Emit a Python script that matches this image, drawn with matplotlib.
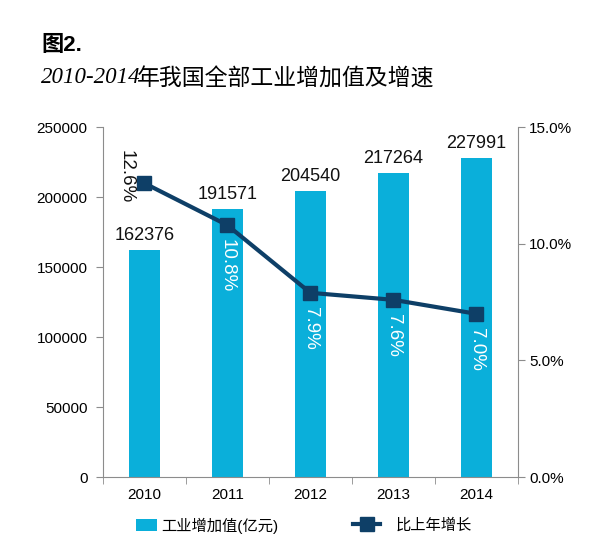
import matplotlib
matplotlib.use("Agg")
import matplotlib.pyplot as plt
from matplotlib.lines import Line2D
from matplotlib.patches import Patch

plt.rcParams['font.family'] = ['Liberation Sans', 'Noto Sans CJK SC', 'DejaVu Sans']

years = ['2010', '2011', '2012', '2013', '2014']
values = [162376, 191571, 204540, 217264, 227991]
growth = [12.6, 10.8, 7.9, 7.6, 7.0]
growth_labels = ['12.6%', '10.8%', '7.9%', '7.6%', '7.0%']
left_ticks = [0, 50000, 100000, 150000, 200000, 250000]
right_ticks = [0, 5, 10, 15]

bar_color = '#0AAFDA'
line_color = '#0E3F67'
axis_color = '#8C8C8C'

fig = plt.figure(figsize=(5.98, 5.58), dpi=100)
ax = fig.add_axes([0.172, 0.145, 0.694, 0.627])
x = list(range(len(years)))
ax.bar(x, values, width=0.37, color=bar_color, zorder=2)
ax.set_xlim(-0.5, 4.5)
ax.set_ylim(0, 250000)
ax.set_yticks(left_ticks)
ax.set_yticklabels([str(v) for v in left_ticks], fontsize=11)
ax.set_xticks(x)
ax.set_xticklabels(years, fontsize=11)
ax.set_xticks([i - 0.5 for i in range(len(years) + 1)], minor=True)
ax.tick_params(axis='x', which='major', length=0, pad=8)
ax.tick_params(axis='x', which='minor', length=5, color=axis_color, direction='out')
ax.tick_params(axis='y', length=5, color=axis_color, direction='out', pad=6)
for s in ['top', 'right']:
    ax.spines[s].set_visible(False)
for s in ['left', 'bottom']:
    ax.spines[s].set_color(axis_color)

for xi, v in zip(x, values):
    ax.text(xi, v + 4000, str(v), ha='center', va='bottom', fontsize=13, color='#111111')

ax2 = ax.twinx()
ax2.set_ylim(0, 15)
ax2.set_yticks(right_ticks)
ax2.set_yticklabels(['%.1f%%' % t for t in right_ticks], fontsize=11)
ax2.tick_params(axis='y', length=5, color=axis_color, direction='out', pad=3)
for s in ['top', 'left', 'bottom']:
    ax2.spines[s].set_visible(False)
ax2.spines['right'].set_color(axis_color)
ax2.plot(x, growth, color=line_color, lw=3, marker='s', markersize=10, zorder=3)

for i, (xi, g, lab) in enumerate(zip(x, growth, growth_labels)):
    if i == 0:
        ax2.text(xi - 0.22, g + 0.3, lab, rotation=270, ha='center', va='center',
                 fontsize=13.5, color='#111111')
    else:
        ax2.text(xi, g - 0.6, lab, rotation=270, ha='center', va='top',
                 fontsize=13.5, color='white')

fig.text(0.07, 0.918, '图2.', fontsize=16, fontweight='bold',
         family=['Liberation Sans', 'Noto Sans CJK SC'], va='center')
fig.text(0.068, 0.862, '2010-2014', fontsize=16.5, style='italic',
         family=['Liberation Serif'], va='center')
fig.text(0.229, 0.858, '年我国全部工业增加值及增速', fontsize=16.5, style='italic',
         family=['Noto Sans CJK SC'], va='center')

ly = 1 - 525.5 / 558
leg1 = fig.legend([Patch(facecolor=bar_color, edgecolor='none')], ['工业增加值(亿元)'],
                  loc='center left', bbox_to_anchor=(136 / 598, ly), frameon=False,
                  fontsize=11, handlelength=1.37, handleheight=0.85, handletextpad=0.26,
                  borderpad=0, borderaxespad=0)
fig.legend([Line2D([0], [0], color=line_color, lw=3, marker='s', markersize=10)],
           ['比上年增长'], loc='center left', bbox_to_anchor=(353 / 598, ly),
           frameon=False, fontsize=11, handlelength=1.77, handletextpad=1.05,
           borderpad=0, borderaxespad=0)

fig.savefig('out.png', dpi=100)
